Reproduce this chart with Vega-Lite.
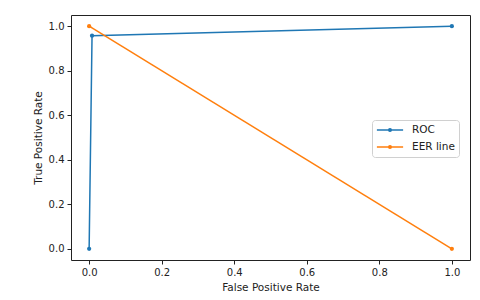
{
  "$schema": "https://vega.github.io/schema/vega-lite/v6.json",
  "autosize": "none",
  "width": 399,
  "height": 245,
  "padding": {"left": 71, "top": 15, "right": 10, "bottom": 40},
  "background": "white",
  "data": {"values": [
    {"series": "ROC", "order": 0, "fpr": 0.0, "tpr": 0.0},
    {"series": "ROC", "order": 1, "fpr": 0.008, "tpr": 0.957},
    {"series": "ROC", "order": 2, "fpr": 1.0, "tpr": 1.0},
    {"series": "EER line", "order": 0, "fpr": 0.0, "tpr": 1.0},
    {"series": "EER line", "order": 1, "fpr": 1.0, "tpr": 0.0}
  ]},
  "mark": {"type": "line", "strokeWidth": 1.5, "clip": true, "point": {"size": 18, "filled": true}},
  "encoding": {
    "x": {"field": "fpr", "type": "quantitative", "scale": {"domain": [-0.05, 1.05], "nice": false, "zero": false},
      "axis": {"values": [0, 0.2, 0.4, 0.6, 0.8, 1.0], "format": ".1f", "title": "False Positive Rate", "grid": false}},
    "y": {"field": "tpr", "type": "quantitative", "scale": {"domain": [-0.05, 1.05], "nice": false, "zero": false},
      "axis": {"values": [0, 0.2, 0.4, 0.6, 0.8, 1.0], "format": ".1f", "title": "True Positive Rate", "grid": false}},
    "color": {"field": "series", "type": "nominal",
      "scale": {"domain": ["ROC", "EER line"], "range": ["#1f77b4", "#ff7f0e"]},
      "legend": {"title": null, "orient": "none", "legendX": 301, "legendY": 105,
        "symbolType": "M-2.5,0H2.5M-0.25,0A0.25,0.25 0 1,1 0.25,0A0.25,0.25 0 1,1 -0.25,0",
        "symbolSize": 110, "symbolStrokeWidth": 1.5, "symbolOffset": 8, "labelFontSize": 10.5,
        "fillColor": "white", "strokeColor": "#d0d0d0", "cornerRadius": 3, "padding": 4, "rowPadding": 5, "labelOffset": 16}},
    "order": {"field": "order", "type": "quantitative"}
  },
  "config": {
    "font": "DejaVu Sans",
    "view": {"stroke": "#222", "strokeWidth": 1},
    "axis": {"domain": false, "tickColor": "#222", "tickSize": 4, "labelColor": "#222", "labelFontSize": 10, "titleFontSize": 10.5, "titleFontWeight": "normal", "titleColor": "#222", "labelPadding": 3, "titlePadding": 5},
    "legend": {"labelColor": "#222", "labelFont": "DejaVu Sans"}
  }
}
